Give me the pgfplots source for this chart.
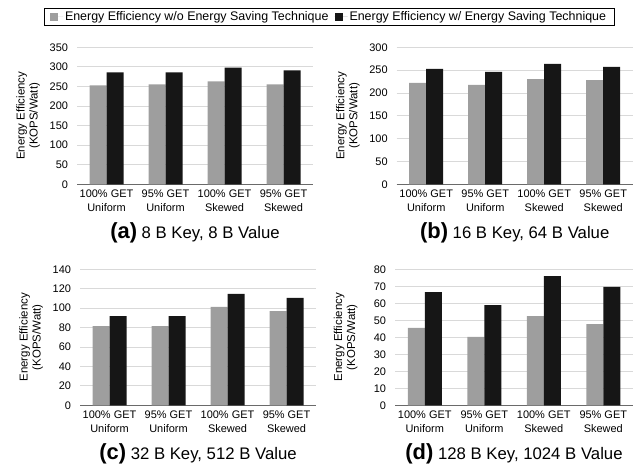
\documentclass[border=0pt]{standalone}
\usepackage{pgfplots}
\pgfplotsset{compat=1.18}
\usepackage{fontspec}
\setmainfont{Liberation Sans}
\definecolor{barGray}{HTML}{9E9E9E}
\definecolor{barBlack}{HTML}{161616}
\definecolor{gridGray}{HTML}{D9D9D9}
\definecolor{axisGray}{HTML}{6A6A6A}
\newcommand{\tickfont}{\fontsize{11}{13.2}\selectfont}
\newcommand{\labfont}{\fontsize{11.5}{13}\selectfont}
\pgfplotsset{
  panel/.style={
    scale only axis,
    width=236bp, height=137bp,
    ybar=0pt, bar width=17bp,
    xmin=-0.5, xmax=3.5, ymin=0,
    xtick={0,1,2,3},
    xticklabels={{100\% GET\\Uniform},{95\% GET\\Uniform},{100\% GET\\Skewed},{95\% GET\\Skewed}},
    axis x line*=bottom, axis y line*=left,
    x axis line style={draw=axisGray, line width=1pt, -},
    y axis line style={draw=none},
    ymajorgrids, grid style={draw=gridGray, line width=0.8pt},
    major tick length=0pt,
    xticklabel style={align=center, font=\tickfont, anchor=north, yshift=-2.5bp},
    yticklabel style={font=\tickfont, anchor=east, xshift=-5.5bp},
    /pgf/number format/assume math mode=true,
    ylabel={Energy Efficiency\\(KOPS/Watt)},
    ylabel style={font=\labfont, align=center, at={(axis description cs:-0.207,0.5)}, anchor=center, rotate=0},
    xlabel style={font=\fontsize{16.8}{18}\selectfont, at={(axis description cs:0.5,-0.354)}, anchor=center},
    every axis plot/.append style={draw=none},
  }
}
\newcommand{\subcap}[2]{{\fontsize{22}{22}\selectfont\bfseries(#1)} #2}
\begin{document}
\begin{tikzpicture}[x=1bp,y=1bp]
\path[use as bounding box] (0,0) rectangle (636,465);
% (a)
\begin{axis}[panel, at={(77bp,280.7bp)}, anchor=south west, ymax=350, ytick={0,50,...,350},
  xlabel={\subcap{a}{8 B Key, 8 B Value}},
  legend columns=2,
  legend style={at={(axis description cs:1.068,1.223)}, anchor=center, draw=black, line width=0.8pt,
    font=\fontsize{12.5}{14}\selectfont, inner xsep=6bp, inner ysep=1.5bp,
    /tikz/every even column/.append style={column sep=4bp}},
  legend image code/.code={\fill[#1] (0bp,-4bp) rectangle (8bp,4bp); \path (0bp,0bp) -- (13bp,0bp);},
]
\addplot[fill=barGray] coordinates {(0,253) (1,255) (2,263) (3,255)};
\addplot[fill=barBlack] coordinates {(0,286) (1,286) (2,298) (3,291)};
\legend{Energy Efficiency w/o Energy Saving Technique, Energy Efficiency w/ Energy Saving Technique}
\end{axis}
% (b)
\begin{axis}[panel, at={(396.7bp,280.7bp)}, anchor=south west, ymax=300, ytick={0,50,...,300},
  xlabel={\subcap{b}{16 B Key, 64 B Value}}]
\addplot[fill=barGray] coordinates {(0,222) (1,217.5) (2,230.5) (3,228)};
\addplot[fill=barBlack] coordinates {(0,252.5) (1,246) (2,263.5) (3,257)};
\end{axis}
% (c)
\begin{axis}[panel, at={(80bp,59.7bp)}, anchor=south west, height=136bp, ymax=140, ytick={0,20,...,140},
  xlabel={\subcap{c}{32 B Key, 512 B Value}}]
\addplot[fill=barGray] coordinates {(0,81.6) (1,81.6) (2,101.2) (3,97)};
\addplot[fill=barBlack] coordinates {(0,91.9) (1,91.9) (2,114.6) (3,110.5)};
\end{axis}
% (d)
\begin{axis}[panel, at={(395bp,59.7bp)}, anchor=south west, width=238bp, height=136bp, ymax=80, ytick={0,10,...,80},
  xlabel={\subcap{d}{128 B Key, 1024 B Value}}]
\addplot[fill=barGray] coordinates {(0,45.5) (1,40.2) (2,52.5) (3,47.8)};
\addplot[fill=barBlack] coordinates {(0,66.6) (1,59) (2,76) (3,69.6)};
\end{axis}
\end{tikzpicture}
\end{document}
